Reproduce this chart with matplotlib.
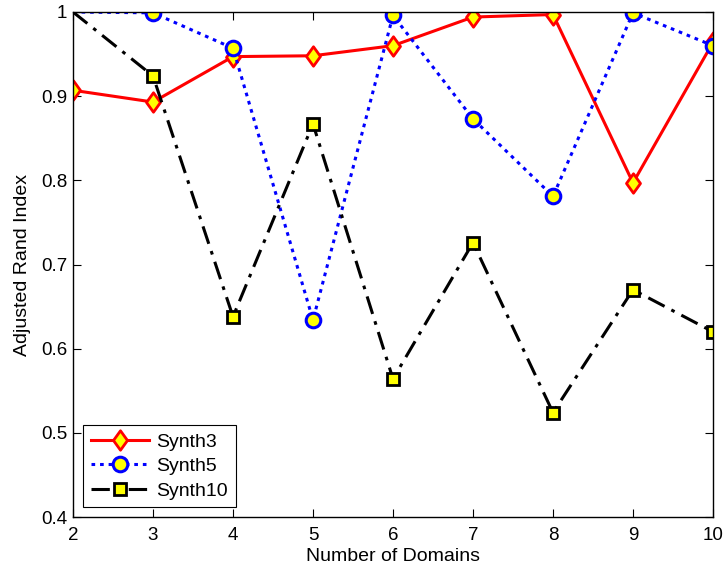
import matplotlib
matplotlib.use("Agg")
import matplotlib.pyplot as plt
from matplotlib.path import Path

domains = [2, 3, 4, 5, 6, 7, 8, 9, 10]
synth3 = [0.907, 0.893, 0.947, 0.948, 0.960, 0.994, 0.997, 0.797, 0.964]
synth5 = [1.000, 0.999, 0.957, 0.634, 0.996, 0.873, 0.781, 0.999, 0.960]
synth10 = [1.000, 0.924, 0.638, 0.867, 0.564, 0.726, 0.524, 0.670, 0.620]

plt.rcParams['font.family'] = ['Liberation Sans', 'DejaVu Sans']

diamond = Path([(0, 1), (0.72, 0), (0, -1), (-0.72, 0), (0, 1)],
               [Path.MOVETO, Path.LINETO, Path.LINETO, Path.LINETO, Path.CLOSEPOLY])

fig = plt.figure(figsize=(7.26, 5.70), dpi=100)
ax = fig.add_axes([73/726, 1-517/570, 640/726, 505/570])

ax.plot(domains, synth3, color='red', linestyle='-', linewidth=2.2,
        marker=diamond, markersize=14, markerfacecolor='yellow',
        markeredgecolor='red', markeredgewidth=2, label='Synth3')
ax.plot(domains, synth5, color='blue', linestyle=(0, (1.2, 1.6)), linewidth=2.2,
        marker='o', markersize=10.5, markerfacecolor='yellow',
        markeredgecolor='blue', markeredgewidth=2.2, markevery=list(range(1, 9)),
        label='Synth5')
ax.plot(domains, synth10, color='black', linestyle=(0, (6, 2.5, 1.2, 2.5)), linewidth=2.2,
        marker='s', markersize=9, markerfacecolor='yellow',
        markeredgecolor='black', markeredgewidth=2, markevery=list(range(1, 9)),
        label='Synth10')

ax.set_xlim(2, 10)
ax.set_ylim(0.4, 1.0)
ax.set_xticks(domains)
ax.set_xticklabels([str(d) for d in domains])
ax.set_yticks([0.4, 0.5, 0.6, 0.7, 0.8, 0.9, 1.0])
ax.set_yticklabels(['0.4', '0.5', '0.6', '0.7', '0.8', '0.9', '1'])
ax.tick_params(direction='in', top=True, right=True, length=6, width=0.8,
               labelsize=13.5)
ax.tick_params(axis='x', pad=7)
ax.tick_params(axis='y', pad=4)
for s in ax.spines.values():
    s.set_linewidth(1.0)

ax.set_xlabel('Number of Domains', fontsize=14, labelpad=3)
ax.set_ylabel('Adjusted Rand Index', fontsize=14, labelpad=7.5)

leg = ax.legend(loc='lower left', fontsize=14, fancybox=False, framealpha=1,
                edgecolor='black', borderaxespad=0.5, handlelength=3.0,
                handletextpad=0.4, labelspacing=0.35, borderpad=0.4)
leg.get_frame().set_linewidth(0.8)

fig.savefig('out.png', dpi=100)
